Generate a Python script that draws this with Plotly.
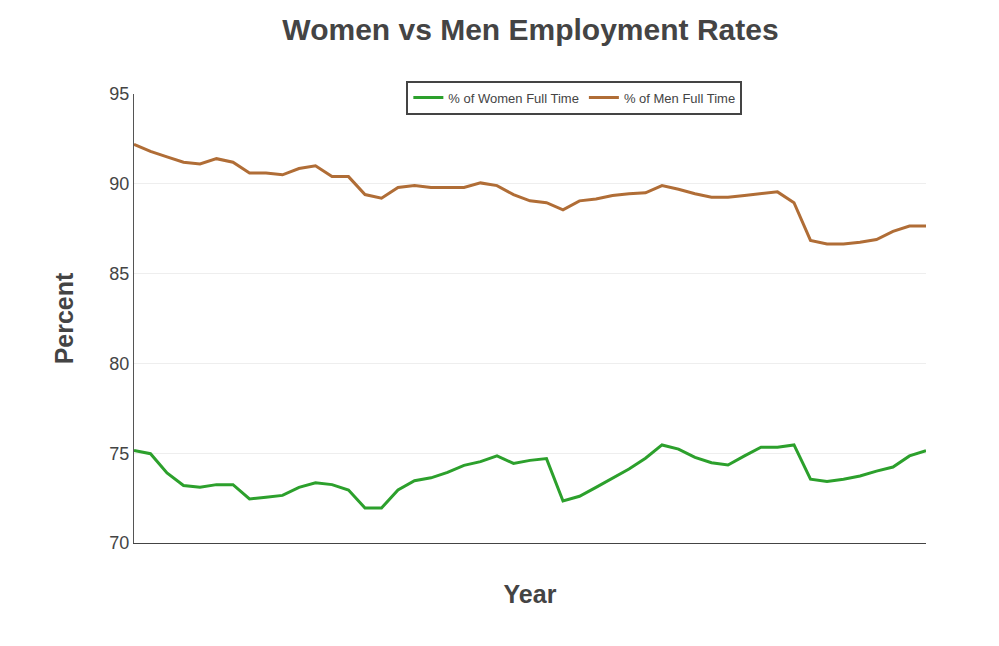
import plotly.graph_objects as go

# periods (x axis has no tick labels in the reference)
periods = list(range(1, 50))

women_full_time = [
    75.15, 74.97, 73.9, 73.2, 73.1, 73.25, 73.25, 72.45, 72.55, 72.65,
    73.1, 73.35, 73.25, 72.95, 71.95, 71.95, 72.95, 73.47, 73.63, 73.93,
    74.32, 74.53, 74.85, 74.43, 74.6, 74.7, 72.34, 72.6, 73.1, 73.6,
    74.12, 74.72, 75.46, 75.23, 74.77, 74.47, 74.34, 74.85, 75.33, 75.33,
    75.46, 73.55, 73.43, 73.55, 73.73, 74.0, 74.23, 74.85, 75.14,
]

men_full_time = [
    92.2, 91.8, 91.5, 91.2, 91.1, 91.4, 91.2, 90.6, 90.6, 90.5,
    90.85, 91.0, 90.4, 90.4, 89.4, 89.2, 89.8, 89.9, 89.8, 89.8,
    89.8, 90.05, 89.9, 89.4, 89.05, 88.95, 88.55, 89.05, 89.15, 89.35,
    89.45, 89.5, 89.9, 89.7, 89.45, 89.25, 89.25, 89.35, 89.45, 89.55,
    88.95, 86.85, 86.65, 86.65, 86.75, 86.9, 87.35, 87.65, 87.65,
]

fig = go.Figure()

fig.add_trace(go.Scatter(
    x=periods, y=women_full_time, mode='lines',
    name='% of Women Full Time',
    line=dict(color='#2ca02c', width=3)
))
fig.add_trace(go.Scatter(
    x=periods, y=men_full_time, mode='lines',
    name='% of Men Full Time',
    line=dict(color='#b06d36', width=3)
))

fig.update_layout(
    width=999, height=646,
    paper_bgcolor='white', plot_bgcolor='white',
    margin=dict(l=126, r=81, t=86, b=111),
    font=dict(family='Arial, Liberation Sans, sans-serif', color='#444'),
    title=dict(
        text='<b>Women vs Men Employment Rates</b>',
        x=0.523, xanchor='center', y=0.966, yanchor='middle',
        font=dict(size=30, color='#444')
    ),
    legend=dict(
        orientation='h', x=0.556, xanchor='center', y=1.03, yanchor='top',
        bordercolor='#444', borderwidth=2, bgcolor='white',
        font=dict(size=13, color='#444'),
    ),
    xaxis=dict(
        title=dict(text='<b>Year</b>', font=dict(size=25, color='#444'), standoff=42),
        range=[1, 49], showticklabels=False, showgrid=False,
        showline=True, linecolor='#444', linewidth=1, zeroline=False,
        ticks='',
    ),
    yaxis=dict(
        title=dict(text='<b>Percent</b>', font=dict(size=25, color='#444'), standoff=28),
        range=[70, 95], dtick=5, tickfont=dict(size=18, color='#444'),
        showgrid=True, gridcolor='#eeeeee', zeroline=False,
        showline=True, linecolor='#555', linewidth=1,
    ),
)

fig.write_html("out.html")
